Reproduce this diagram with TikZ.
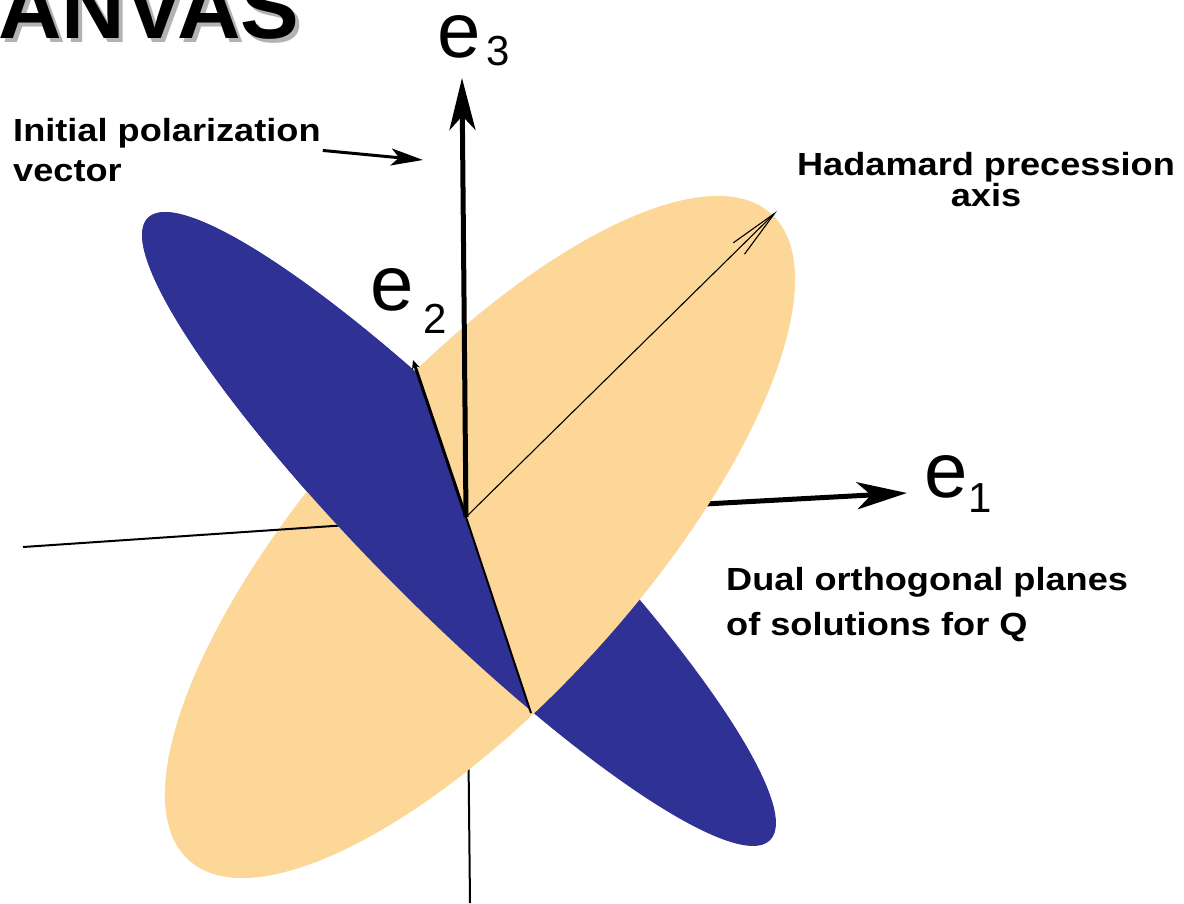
\documentclass[tikz,border=0pt]{standalone}
\usepackage{fontspec}
\setmainfont{Liberation Sans}
\newfontfamily\labfont[FakeStretch=1.13]{Liberation Sans}
\usetikzlibrary{arrows.meta,calc}
\definecolor{peach}{RGB}{253,215,152}
\definecolor{planeblue}{RGB}{47,50,148}
\newcommand\elabfont{\fontsize{78}{78}\selectfont}
\newcommand\subdigfont{\fontsize{42}{42}\selectfont}
\newcommand\shadowed[1]{\rlap{\kern4pt\raisebox{-4pt}{\color{black!30}#1}}#1}
\tikzset{
  bigaxis/.style={line width=5pt},
  thinaxis/.style={line width=2pt},
  elab/.style={font=\elabfont, inner sep=0pt},
  note/.style={inner sep=0pt, font=\labfont\bfseries\fontsize{32}{40}\selectfont},
  headtext/.style={anchor=base west, inner sep=0pt, font=\bfseries\fontsize{88}{88}\selectfont},
}
\begin{document}
\begin{tikzpicture}[x=1pt,y=-1pt]
\useasboundingbox (0,0) rectangle (1184,903);
\fill[white] (0,0) rectangle (1184,903);
% cropped heading fragment
\begin{scope}
\clip (0,0) rectangle (1184,903);
\node[headtext] (head) at (-2,38) {\shadowed{ANVAS}};
\end{scope}
% key points
\coordinate (O) at (466,517);
\coordinate (e1tip) at (907,493);
\coordinate (e3tip) at (462,78);
\coordinate (e2tip) at (413,360);
\coordinate (negone) at (23,547);
\coordinate (negthree) at (470,903);
\coordinate (cut) at (531,713);
\coordinate (had) at (777,211);
\coordinate (oc) at (480,537);
\coordinate (bc) at (459,529);
% axes behind the planes
\draw[bigaxis, -{Stealth[length=50pt,width=27pt,inset=14pt]}] (O) -- (e1tip);
\draw[thinaxis] (O) -- (negthree);
% planes
\fill[planeblue, rotate around={-45:(bc)}] (bc) ellipse [x radius=440pt, y radius=85pt];
\fill[peach, rotate around={48:(oc)}] (oc) ellipse [x radius=435pt, y radius=162pt];
\draw[thinaxis] (O) -- (negone);
\begin{scope}
\clip ($(e2tip)!-1.5!(cut)$) -- ($(cut)!-1.5!(e2tip)$) -- (-300,1300) -- (-300,-200) -- cycle;
\fill[planeblue, rotate around={-45:(bc)}] (bc) ellipse [x radius=440pt, y radius=85pt];
\end{scope}
% front vectors
\draw[line width=2pt] (O) -- (cut);
\draw[line width=3pt, -{Stealth[length=9pt,width=8pt]}] (O) -- (e2tip);
\draw[bigaxis, -{Stealth[length=52pt,width=26pt,inset=14pt]}] (O) -- (e3tip);
\draw[line width=1.1pt, -{Straight Barb[length=50pt,width=16pt]}] (O) -- (had);
% labels
\node[elab, anchor=base west] (e1lab) at (924,497) {e\kern1pt\raisebox{-15pt}{\subdigfont 1}};
\node[elab, anchor=base west] (e2lab) at (370,310) {e\kern10pt\raisebox{-23pt}{\subdigfont 2}};
\node[elab, anchor=base west] (e3lab) at (437,57) {e\kern6pt\raisebox{-8pt}{\subdigfont 3}};
\node[note, align=left, anchor=north west] (init) at (13,118.5) {Initial polarization\\vector};
\coordinate (poltarget) at (423,160);
\draw[line width=3pt, -{Stealth[length=32pt,width=17pt,inset=8pt]}] ([xshift=2pt]init.east) -- (poltarget);
\node[note, align=center, anchor=north, font=\labfont\bfseries\fontsize{32}{31}\selectfont] (hada) at (986,152) {Hadamard precession\\axis};
\node[note, align=left, anchor=north west, font=\labfont\bfseries\fontsize{32}{45}\selectfont] (dual) at (726,567) {Dual orthogonal planes\\of solutions for Q};
\end{tikzpicture}
\end{document}
